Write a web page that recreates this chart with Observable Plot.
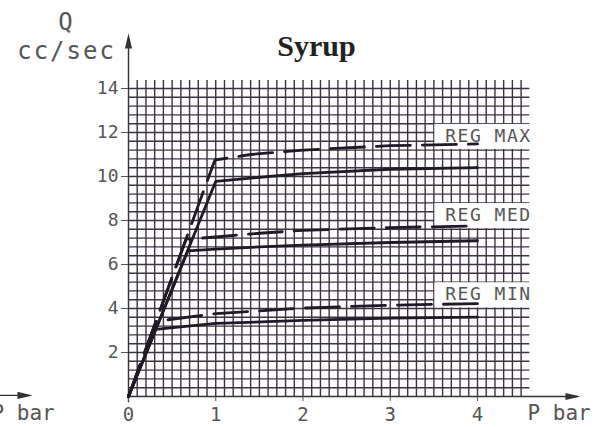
<!DOCTYPE html>
<html><head><meta charset="utf-8">
<script src="https://cdn.jsdelivr.net/npm/d3@7"></script>
<script src="https://cdn.jsdelivr.net/npm/@observablehq/plot@0.6"></script>
<style>
html,body{margin:0;padding:0;background:#fff;}
#chart svg{display:block;}
</style></head><body><div id="chart"></div>
<script>
// ---- data ----
const xTickValues = [0, 1, 2, 3, 4];
const yTickValues = [2, 4, 6, 8, 10, 12, 14];
const regLabels = ["REG MAX", "REG MED", "REG MIN"];

const maxSolidP = [0, 1.0, 1.4, 2, 3, 4];
const maxSolidQ = [0, 9.78, 9.93, 10.13, 10.33, 10.4];
const maxDashP  = [0, 0.99, 1.4, 2, 3, 4];
const maxDashQ  = [0, 10.75, 11.0, 11.2, 11.4, 11.48];

const medSolidP = [0, 0.68, 1, 1.5, 2, 3, 4];
const medSolidQ = [0, 6.62, 6.7, 6.8, 6.88, 7.0, 7.08];
const medDashP  = [0, 0.66, 1, 1.5, 2, 3, 4];
const medDashQ  = [0, 7.15, 7.25, 7.42, 7.55, 7.68, 7.75];

const minSolidP = [0, 0.31, 1, 2, 3, 4];
const minSolidQ = [0, 3.05, 3.32, 3.46, 3.56, 3.61];
const minDashP  = [0, 0.32, 1, 2, 3, 4];
const minDashQ  = [0, 3.42, 3.77, 4.02, 4.15, 4.22];

// ---- build tables ----
const toRows = (P, Q) => P.map((p, i) => ({P: p, Q: Q[i]}));
const solidSeries = [toRows(maxSolidP, maxSolidQ), toRows(medSolidP, medSolidQ), toRows(minSolidP, minSolidQ)];
const dashSeries  = [toRows(maxDashP, maxDashQ), toRows(medDashP, medDashQ), toRows(minDashP, minDashQ)];

// grid (fine chart-paper grid)
const vGrid = d3.range(1, 46).map(i => i / 10);      // every 0.1 bar, to 4.5
const hGrid = d3.range(1, 36).map(i => i * 0.4);     // every 0.4 cc/s, to 14

// label boxes (white patches in the grid)
const boxes = [
  {label: regLabels[0], y1: 11.2, y2: 12.4},
  {label: regLabels[1], y1: 7.6,  y2: 8.8},
  {label: regLabels[2], y1: 4.0,  y2: 5.2}
];

const gridColor = "#3b3140";
const lineColor = "#1f1a26";
const textColor = "#555";
const mono = "DejaVu Sans Mono, monospace";

const arrowUp = {draw(ctx) { ctx.moveTo(0, 0); ctx.lineTo(3.6, 15); ctx.lineTo(-3.6, 15); ctx.closePath(); }};

const marks = [
  Plot.ruleX(vGrid, {y1: 0, y2: 14.36, stroke: gridColor, strokeWidth: 1.4}),
  Plot.ruleY(hGrid, {x1: 0, x2: 4.6, stroke: gridColor, strokeWidth: 1.4}),
  Plot.rect(boxes, {x1: 3.512, x2: 4.75, y1: d => d.y1 + 0.03, y2: d => d.y2 - 0.03, fill: "#fff"}),
  // axes lines with arrows
  Plot.ruleX([0], {y1: -0.28, y2: 16.3, stroke: "#333", strokeWidth: 1.4}),
  Plot.ruleY([0], {x1: 0, x2: 5.15, stroke: "#333", strokeWidth: 1.4}),
  Plot.dot([{x: 0, y: 16.5}], {x: "x", y: "y", symbol: arrowUp, fill: "#333", stroke: "none"}),
  Plot.dot([{x: 5.18, y: 0}], {x: "x", y: "y", symbol: arrowUp, rotate: 90, fill: "#333", stroke: "none"}),
  // cropped neighbouring axis at the far left
  Plot.ruleY([0.05], {x1: -1.6, x2: -1.14, stroke: "#333", strokeWidth: 1.4}),
  Plot.dot([{x: -1.1, y: 0.05}], {x: "x", y: "y", symbol: arrowUp, rotate: 90, fill: "#333", stroke: "none"}),
  Plot.axisY(yTickValues, {anchor: "left", tickSize: 7, tickPadding: 3, fontSize: 18, fontFamily: mono, color: textColor, label: null}),
  Plot.axisX(xTickValues, {anchor: "bottom", tickSize: 5, tickPadding: 6, fontSize: 19, fontFamily: mono, color: textColor, label: null}),
  // curves
  ...solidSeries.map(s => Plot.line(s, {x: "P", y: "Q", stroke: lineColor, strokeWidth: 2.8})),
  ...dashSeries.map(s => Plot.line(s, {x: "P", y: "Q", stroke: lineColor, strokeWidth: 2.8, strokeDasharray: "34,12"})),
  // labels
  Plot.text(boxes, {x: 3.63, y: d => (d.y1 + d.y2) / 2 + 0.05, text: "label", textAnchor: "start", fontSize: 18, fontFamily: mono, fill: textColor}),
  Plot.text(["Syrup"], {x: 2.155, y: 15.93, text: d => d, fontFamily: "Liberation Serif, Times New Roman, serif", fontWeight: "bold", fontSize: 30, fill: "#222"}),
  Plot.text(["Q"], {x: -0.722, y: 17.0, text: d => d, fontSize: 24, fontFamily: mono, fill: textColor}),
  Plot.text(["cc/sec"], {x: -0.71, y: 15.7, text: d => d, fontSize: 24, fontFamily: mono, fill: textColor}),
  Plot.text(["P bar"], {x: 4.573, y: -0.78, text: d => d, textAnchor: "start", fontSize: 21, fontFamily: mono, fill: textColor}),
  Plot.text(["P bar"], {x: -1.57, y: -0.78, text: d => d, textAnchor: "start", fontSize: 21, fontFamily: mono, fill: textColor})
];

const svg = Plot.plot({
  width: 607, height: 427,
  marginLeft: 128, marginRight: 130, marginTop: 88, marginBottom: 31,
  x: {domain: [0, 4]},
  y: {domain: [0, 14]},
  style: {background: "#fff", overflow: "visible"},
  marks
});

d3.select(svg).selectAll("text").each(function() {
  const t = this.textContent;
  if (t.startsWith("REG")) this.setAttribute("letter-spacing", "1.5");
  if (t === "cc/sec") this.setAttribute("letter-spacing", "2");
});
document.getElementById("chart").appendChild(svg);
</script>
</body></html>
